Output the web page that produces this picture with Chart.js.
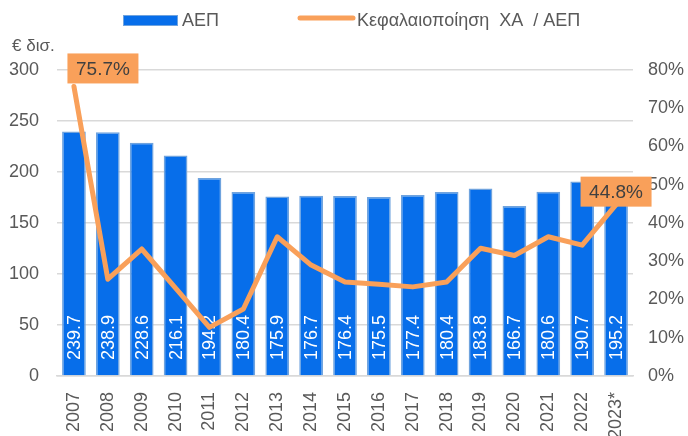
<!DOCTYPE html>
<html>
<head>
<meta charset="utf-8">
<script src="https://cdn.jsdelivr.net/npm/chart.js@4"></script>
<style>
    html, body { margin: 0; padding: 0; background: #fff; }
    #wrap { width: 688px; height: 436px; position: relative; }
</style>
</head>
<body>
<div id="wrap"><canvas id="chart" width="688" height="436"></canvas></div>
<script>
const years = ['2007', '2008', '2009', '2010', '2011', '2012', '2013', '2014', '2015', '2016', '2017', '2018', '2019', '2020', '2021', '2022', '2023*']
const gdp = [239.7, 238.9, 228.6, 216.1, 194.2, 180.4, 175.9, 176.7, 176.4, 175.5, 177.4, 180.4, 183.8, 166.7, 180.6, 190.7, 195.2]
const capRatio = [75.7, 25.3, 33.2, 23.0, 12.7, 17.5, 36.4, 29.0, 24.6, 24.0, 23.3, 24.6, 33.4, 31.5, 36.4, 34.2, 44.8]
const labelledPoints = [0, 16]

const FONT = '"Liberation Sans", Arial, sans-serif'
const GREY = '#595959'
const BLUE = '#076EEA'
const ORANGE = '#F9A05A'

// Τιμές μέσα στις μπάρες (κάθετα, λευκά)
const barLabels = {
    id: 'barLabels',
    afterDatasetDraw(chart, args) {
        if (args.index !== 0) return
        const ctx = chart.ctx
        const base = chart.scales.y.getPixelForValue(0)
        ctx.save()
        ctx.font = '18px ' + FONT
        ctx.fillStyle = '#fff'
        ctx.textAlign = 'left'
        ctx.textBaseline = 'middle'
        args.meta.data.forEach((bar, i) => {
            ctx.save()
            ctx.translate(bar.x + 1, base - 16)
            ctx.rotate(-Math.PI / 2)
            ctx.fillText(gdp[i].toFixed(1), 0, 0)
            ctx.restore()
        })
        ctx.restore()
    }
}

// Πορτοκαλί κουτιά για πρώτη/τελευταία τιμή + legend + μονάδα
const extras = {
    id: 'extras',
    afterDatasetsDraw(chart) {
        const ctx = chart.ctx
        const meta = chart.getDatasetMeta(1)
        ctx.save()
        ctx.font = '19px ' + FONT
        ctx.textAlign = 'center'
        ctx.textBaseline = 'middle'
        labelledPoints.forEach((i) => {
            const pt = meta.data[i]
            const txt = capRatio[i].toFixed(1) + '%'
            const w = 71, h = 30
            let cx, cy
            if (i === 0) {
                cx = pt.x + 29
                cy = pt.y - 18
            } else {
                cx = pt.x
                cy = pt.y - 13
            }
            ctx.fillStyle = ORANGE
            ctx.fillRect(cx - w / 2, cy - h / 2, w, h)
            ctx.fillStyle = '#404040'
            ctx.fillText(txt, cx, cy + 1)
        })
        ctx.restore()
    },
    afterDraw(chart) {
        const ctx = chart.ctx
        ctx.save()
        ctx.font = '18px ' + FONT
        ctx.textBaseline = 'middle'
        ctx.textAlign = 'left'
        // legend
        ctx.fillStyle = '#6FA3DE'
        ctx.fillRect(123, 15, 55, 11)
        ctx.fillStyle = BLUE
        ctx.fillRect(124, 16, 53, 9)
        ctx.fillStyle = GREY
        ctx.fillText('ΑΕΠ', 182, 21)
        ctx.strokeStyle = ORANGE
        ctx.lineWidth = 5
        ctx.lineCap = 'round'
        ctx.beginPath()
        ctx.moveTo(300, 18)
        ctx.lineTo(353, 18)
        ctx.stroke()
        ctx.fillText('Κεφαλαιοποίηση  ΧΑ  / ΑΕΠ', 357, 21)
        ctx.font = '17px ' + FONT
        ctx.fillText('€ δισ.', 12, 46)
        ctx.restore()
    }
}

new Chart(document.getElementById('chart'), {
    data: {
        labels: years,
        datasets: [
            {
                type: 'bar',
                label: 'ΑΕΠ',
                data: gdp,
                backgroundColor: BLUE,
                borderColor: '#6FA3DE',
                borderWidth: 1.5,
                barPercentage: 0.7,
                categoryPercentage: 1,
                yAxisID: 'y',
                order: 1
            },
            {
                type: 'line',
                label: 'Κεφαλαιοποίηση ΧΑ / ΑΕΠ',
                data: capRatio,
                borderColor: ORANGE,
                borderWidth: 5,
                pointRadius: 0,
                tension: 0,
                borderJoinStyle: 'round',
                borderCapStyle: 'round',
                yAxisID: 'y1',
                order: 0
            }
        ]
    },
    options: {
        responsive: false,
        animation: false,
        layout: { padding: { top: 70, left: 0, right: 0, bottom: 0 } },
        plugins: {
            legend: { display: false },
            tooltip: { enabled: false }
        },
        scales: {
            x: {
                grid: { display: false },
                border: { display: true, color: '#D9D9D9', width: 1.5 },
                ticks: {
                    color: GREY,
                    font: { family: FONT, size: 18 },
                    minRotation: 90,
                    maxRotation: 90,
                    padding: 8,
                    autoSkip: false
                },
                afterFit: (s) => { s.height = 60 }
            },
            y: {
                position: 'left',
                min: 0,
                max: 300,
                grid: { color: '#D9D9D9', lineWidth: 1.5, drawTicks: false },
                border: { display: false },
                ticks: {
                    stepSize: 50,
                    color: GREY,
                    padding: 18,
                    font: { family: FONT, size: 18 }
                },
                afterFit: (s) => { s.width = 57 }
            },
            y1: {
                position: 'right',
                min: 0,
                max: 80,
                grid: { display: false, drawTicks: false },
                border: { display: false },
                ticks: {
                    stepSize: 10,
                    color: GREY,
                    padding: 15,
                    font: { family: FONT, size: 18 },
                    callback: (v) => v + '%'
                },
                afterFit: (s) => { s.width = 55 }
            }
        }
    },
    plugins: [barLabels, extras]
})
</script>
</body>
</html>
